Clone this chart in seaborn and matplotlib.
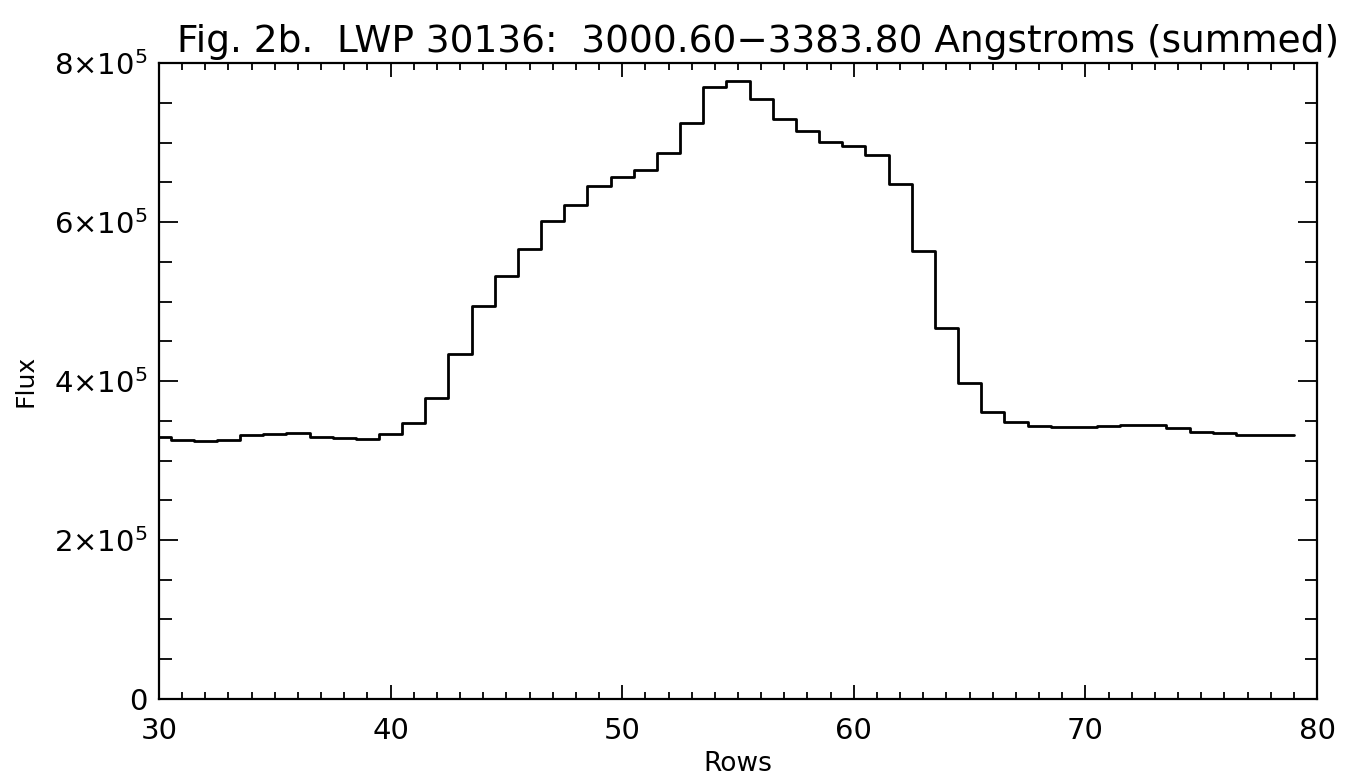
import matplotlib
matplotlib.use('Agg')
import matplotlib.pyplot as plt
import numpy as np
import pandas as pd
import seaborn as sns
from matplotlib.ticker import FixedLocator, FuncFormatter, MultipleLocator

sns.set_theme(style='ticks')
plt.rcParams['font.family'] = ['DejaVu Sans']
plt.rcParams.update({
    'text.color': 'black',
    'axes.labelcolor': 'black',
    'xtick.color': 'black',
    'ytick.color': 'black',
    'mathtext.fontset': 'dejavusans',
})

# Row numbers and summed flux (units of 1e5)
rows = list(range(30, 80))
flux_e5 = [
    3.30, 3.26, 3.24, 3.26, 3.32, 3.33, 3.34, 3.29, 3.28, 3.27,
    3.33, 3.47, 3.79, 4.34, 4.94, 5.32, 5.66, 6.01, 6.22, 6.45,
    6.57, 6.65, 6.87, 7.25, 7.70, 7.78, 7.55, 7.30, 7.14, 7.01,
    6.95, 6.84, 6.48, 5.64, 4.67, 3.97, 3.61, 3.48, 3.43, 3.42,
    3.42, 3.44, 3.45, 3.45, 3.41, 3.36, 3.34, 3.32, 3.32, 3.32,
]
y_ticks = [0, 2e5, 4e5, 6e5, 8e5]
x_ticks = [30, 40, 50, 60, 70, 80]

title = 'Fig. 2b.  LWP 30136:  3000.60\u22123383.80 Angstroms (summed)'


def sci_label(value, pos=None):
    """Formats a tick value IDL-style as N x 10^5."""
    if value == 0:
        return '0'
    return r'$%d{\times}10^{\mathsf{5}}$' % round(value / 1e5)


def main() -> None:
    data = pd.DataFrame({'Rows': rows, 'Flux': np.array(flux_e5) * 1e5})

    fig = plt.figure(figsize=(13.54, 7.79), dpi=100)
    ax = fig.add_axes([0.1174, 0.1027, 0.8553, 0.8164])
    sns.lineplot(data=data, x='Rows', y='Flux', ax=ax, color='black',
                 linewidth=2.0, drawstyle='steps-mid', estimator=None)

    ax.set_xlim(30, 80)
    ax.set_ylim(0, 8e5)
    ax.xaxis.set_major_locator(FixedLocator(x_ticks))
    ax.xaxis.set_minor_locator(MultipleLocator(1))
    ax.yaxis.set_major_locator(FixedLocator(y_ticks))
    ax.yaxis.set_minor_locator(MultipleLocator(0.5e5))
    ax.yaxis.set_major_formatter(FuncFormatter(sci_label))

    ax.tick_params(axis='both', which='both', direction='in', top=True, right=True,
                   color='black', width=1.3)
    ax.tick_params(axis='x', which='major', length=10, pad=13, labelsize=21)
    ax.tick_params(axis='x', which='minor', length=5)
    ax.tick_params(axis='y', which='major', length=14, pad=8, labelsize=21)
    ax.tick_params(axis='y', which='minor', length=9)

    for spine in ax.spines.values():
        spine.set_visible(True)
        spine.set_color('black')
        spine.set_linewidth(1.6)

    ax.set_xlabel('Rows', fontsize=19, labelpad=4)
    ax.set_ylabel('Flux', fontsize=18, labelpad=12)
    ax.set_title(title, fontsize=27, pad=8, x=0.517)

    fig.savefig('out.png', dpi=100)


if __name__ == '__main__':
    main()
